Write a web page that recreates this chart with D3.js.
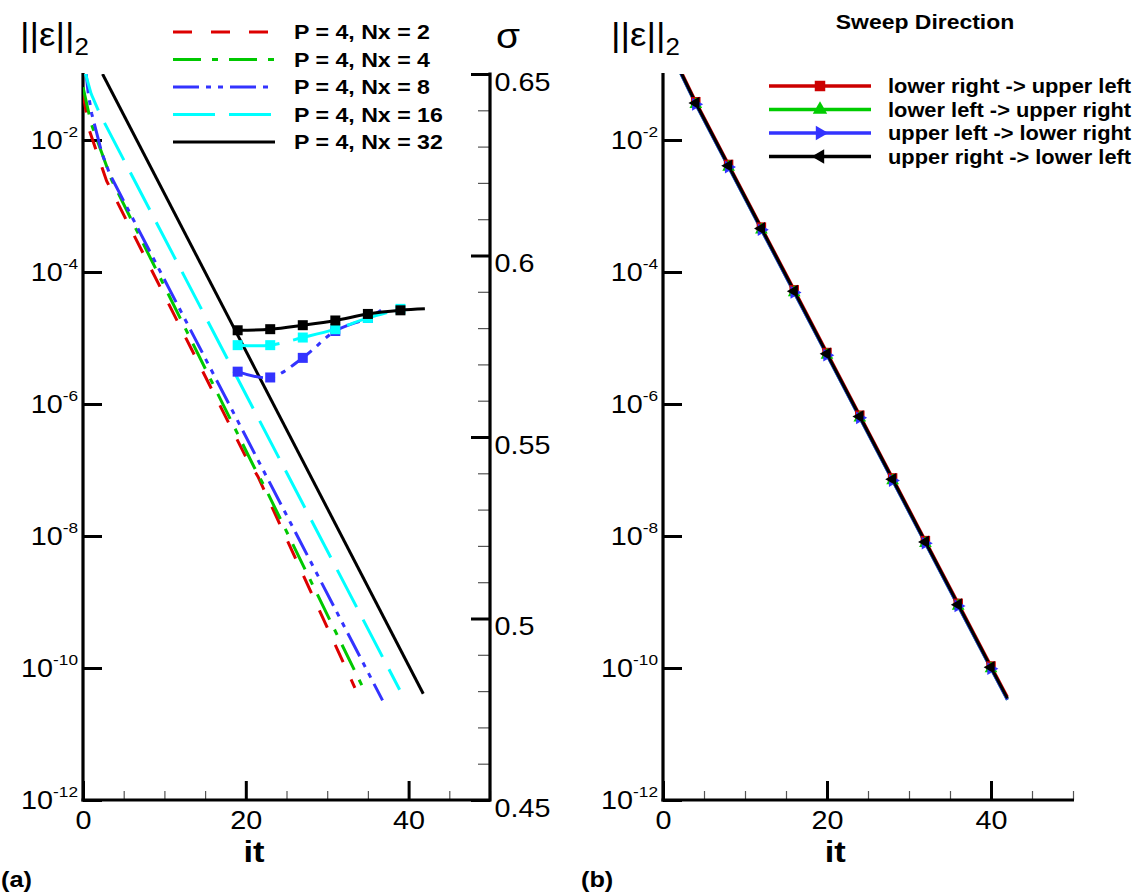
<!DOCTYPE html>
<html><head><meta charset="utf-8">
<script src="https://cdn.jsdelivr.net/npm/d3@7"></script>
<style>
body{margin:0;background:#fff;}
text{font-family:"Liberation Sans",Arial,sans-serif;}
</style></head>
<body><svg id="c" width="1138" height="892"></svg>
<script>
// ---------- DATA ----------
// Panel (a): residual ||e||_2 (log10 exponents) vs iteration
const legendA = ["P = 4, Nx = 2","P = 4, Nx = 4","P = 4, Nx = 8","P = 4, Nx = 16","P = 4, Nx = 32"];
const colorsA = ["#dd0000","#00c800","#3333ff","#00ffff","#000000"];
const dashA = ["19,19","28,11,6,11","26,7,5,7,5,7","42,14",null];
const resItNx2  = [0, 0.8, 2.9, 20, 21.5, 33.4];
const resLogNx2 = [-1.3, -1.86, -2.62, -6.8, -7.1, -10.3];
const resItNx4  = [0, 1, 3.5, 21, 22.5, 34.8];
const resLogNx4 = [-1.2, -1.75, -2.6, -6.95, -7.3, -10.4];
const resItNx8  = [0.3, 0.65, 1.07, 2.3, 3.3, 36.8];
const resLogNx8 = [-0.9, -1.3, -1.6, -2.19, -2.52, -10.49];
const resItNx16  = [0.2, 1, 2.09, 38.9];
const resLogNx16 = [-0.95, -1.3, -1.61, -10.33];
const resItNx32  = [2.4, 41.8];
const resLogNx32 = [-1.0, -10.39];
// Panel (a): sigma (right axis) for Nx = 8, 16, 32
const sigItNx8   = [19, 23, 27, 31, 35, 37];
const sigNx8     = [0.5680, 0.5664, 0.5718, 0.5792, 0.5828, 0.5855];
const sigItNx16  = [19, 23, 27, 31, 35, 39];
const sigNx16    = [0.5753, 0.5753, 0.5774, 0.5797, 0.5828, 0.5853];
const sigItNx32  = [19, 23, 27, 31, 35, 39, 42];
const sigNx32    = [0.5794, 0.5797, 0.5808, 0.5821, 0.5839, 0.5849, 0.5853];

// Panel (b): sweep directions
const legendB = ["lower right -> upper left","lower left -> upper right","upper left -> lower right","upper right -> lower left"];
const colorsB = ["#cc0000","#00cc00","#3333ff","#000000"];
const sweepIt    = [1.5, 4, 8, 12, 16, 20, 24, 28, 32, 36, 40, 42];
const sweepLR_UL = [-0.78, -1.42, -2.37, -3.32, -4.27, -5.22, -6.17, -7.12, -8.07, -9.02, -9.97, -10.44];
const sweepLL_UR = [-0.82, -1.46, -2.41, -3.36, -4.31, -5.26, -6.21, -7.16, -8.11, -9.06, -10.01, -10.48];
const sweepUL_LR = [-0.82, -1.46, -2.41, -3.36, -4.31, -5.26, -6.21, -7.16, -8.11, -9.06, -10.01, -10.48];
const sweepUR_LL = [-0.80, -1.44, -2.39, -3.34, -4.29, -5.24, -6.19, -7.14, -8.09, -9.04, -9.99, -10.46];
const markIt = [4, 8, 12, 16, 20, 24, 28, 32, 36, 40];

const xMajor = [0, 20, 40];
const xMinor = [5, 10, 15, 25, 30, 35, 45, 50];
const yMajorExp = [-2, -4, -6, -8, -10, -12];
const sigMajor = [0.65, 0.6, 0.55, 0.5, 0.45];
const sigMinorStep = 0.01;

// ---------- DRAW ----------
const svg = d3.select("#c");
const TOP = 74, BOT = 800;
const TICKFS = 25, SX = 1.15;

function stext(parent, x, y, size, txt, opts = {}) {
  const t = parent.append("text")
    .attr("transform", `translate(${x},${y}) scale(${opts.sx || SX},1)`)
    .attr("font-size", size).attr("text-anchor", opts.anchor || "start");
  if (opts.bold) t.attr("font-weight", "bold");
  if (txt !== null) t.text(txt);
  return t;
}

function panel(x0, x1, labelTxt, titleX) {
  const x = d3.scaleLinear().domain([0, 50]).range([x0, x1]);
  const y = d3.scaleLog().domain([1e-12, 1e-1]).range([BOT, TOP]);
  const g = svg.append("g");
  g.append("g").attr("transform", `translate(0,${BOT})`)
    .call(d3.axisBottom(x).tickValues(xMinor).tickSize(-9).tickFormat(""))
    .call(s => s.select(".domain").remove())
    .call(s => s.selectAll("line").attr("stroke", "#555").attr("stroke-width", 1.2));
  g.append("g").attr("transform", `translate(0,${BOT})`)
    .call(d3.axisBottom(x).tickValues(xMajor).tickSize(-19).tickPadding(10).tickFormat(d3.format("d")))
    .call(s => s.select(".domain").remove())
    .call(s => s.selectAll("line").attr("stroke", "#000").attr("stroke-width", 3))
    .call(s => s.selectAll("text").attr("font-size", TICKFS).attr("fill", "#000").attr("dy", "0.75em")
      .attr("transform", `scale(${SX},1)`)
      .attr("font-family", "Liberation Sans, Arial, sans-serif"));
  g.append("g").attr("transform", `translate(${x0},0)`)
    .call(d3.axisLeft(y).tickValues(yMajorExp.map(e => Math.pow(10, e))).tickSize(-19).tickFormat(""))
    .call(s => s.select(".domain").remove())
    .call(s => s.selectAll("line").attr("stroke", "#000").attr("stroke-width", 3));
  yMajorExp.forEach(e => {
    const t = stext(g, x0 - 5, y(Math.pow(10, e)) + 9, TICKFS, null, {anchor: "end"});
    t.append("tspan").text("10");
    t.append("tspan").attr("font-size", 15).attr("dy", -12).text(String(e));
  });
  g.append("line").attr("x1", x0).attr("x2", x0).attr("y1", TOP - 1).attr("y2", BOT + 1.5)
    .attr("stroke", "#000").attr("stroke-width", 3.2);
  g.append("line").attr("x1", x0 - 1.5).attr("x2", x1 + 1).attr("y1", BOT).attr("y2", BOT)
    .attr("stroke", "#000").attr("stroke-width", 3.2);
  const yt = stext(g, titleX, 46, 34, null, {sx: 1.08});
  yt.append("tspan").text("||ε||");
  yt.append("tspan").attr("font-size", 24).attr("dy", 9).text("2");
  stext(g, x(21), 862, 30, "it", {anchor: "middle", bold: true});
  stext(g, x0 - 82, 887, 22, labelTxt, {bold: true});
  return {x, y, g};
}

// ----- Panel (a)
const A = panel(83, 490, "(a)", 20);
const sig = d3.scaleLinear().domain([0.45, 0.65]).range([BOT, TOP]);
const sigMinor = d3.range(0.45, 0.6501, sigMinorStep).map(v => +v.toFixed(2))
  .filter(v => !sigMajor.some(m => Math.abs(m - v) < 1e-6));
A.g.append("g").attr("transform", "translate(490,0)")
  .call(d3.axisRight(sig).tickValues(sigMinor).tickSize(-12).tickFormat(""))
  .call(s => s.select(".domain").remove())
  .call(s => s.selectAll("line").attr("stroke", "#555").attr("stroke-width", 1.2));
A.g.append("g").attr("transform", "translate(490,0)")
  .call(d3.axisRight(sig).tickValues(sigMajor).tickSize(-19).tickPadding(4).tickFormat(d3.format(".2~f")))
  .call(s => s.select(".domain").remove())
  .call(s => s.selectAll("line").attr("stroke", "#000").attr("stroke-width", 3))
  .call(s => s.selectAll("text").attr("font-size", TICKFS).attr("fill", "#000").attr("dy", "0.64em")
      .attr("transform", `scale(${SX},1)`)
      .attr("font-family", "Liberation Sans, Arial, sans-serif"));
A.g.append("line").attr("x1", 490).attr("x2", 490).attr("y1", TOP - 1.5).attr("y2", BOT + 1.5)
  .attr("stroke", "#000").attr("stroke-width", 3.2);
stext(A.g, 496, 48, 36, "σ", {sx: 1.08});

svg.append("clipPath").attr("id", "clipA").append("rect")
  .attr("x", 83).attr("y", TOP).attr("width", 407).attr("height", BOT - TOP);
const plotA = svg.append("g").attr("clip-path", "url(#clipA)");

const resIts = [resItNx2, resItNx4, resItNx8, resItNx16, resItNx32];
const resLogs = [resLogNx2, resLogNx4, resLogNx8, resLogNx16, resLogNx32];
const lineA = d3.line().x(d => A.x(d[0])).y(d => A.y(Math.pow(10, d[1])));
resIts.forEach((its, i) => {
  const pts = its.map((t, k) => [t, resLogs[i][k]]);
  plotA.append("path").attr("d", lineA(pts)).attr("fill", "none")
    .attr("stroke", colorsA[i]).attr("stroke-width", 3)
    .attr("stroke-dasharray", dashA[i]);
});
const sigIts = [sigItNx8, sigItNx16, sigItNx32];
const sigVals = [sigNx8, sigNx16, sigNx32];
const sigIdx = [2, 3, 4];
const lineS = d3.line().x(d => A.x(d[0])).y(d => sig(d[1])).curve(d3.curveCatmullRom);
sigIts.forEach((its, j) => {
  const i = sigIdx[j];
  const pts = its.map((t, k) => [t, sigVals[j][k]]);
  plotA.append("path").attr("d", lineS(pts)).attr("fill", "none")
    .attr("stroke", colorsA[i]).attr("stroke-width", 3)
    .attr("stroke-dasharray", dashA[i]);
  pts.filter(p => (p[0] - 19) % 4 === 0).forEach(p => {
    plotA.append("rect").attr("x", A.x(p[0]) - 5).attr("y", sig(p[1]) - 5)
      .attr("width", 10).attr("height", 10).attr("fill", colorsA[i]);
  });
});
legendA.forEach((name, i) => {
  const yy = 32 + i * 27.5;
  svg.append("line").attr("x1", 173).attr("x2", 275).attr("y1", yy).attr("y2", yy)
    .attr("stroke", colorsA[i]).attr("stroke-width", 3).attr("stroke-dasharray", dashA[i]);
  stext(svg, 294, yy + 7, 20.5, name, {bold: true, sx: 1.13});
});

// ----- Panel (b)
const B = panel(663, 1073, "(b)", 611);
svg.append("clipPath").attr("id", "clipB").append("rect")
  .attr("x", 663).attr("y", TOP).attr("width", 410).attr("height", BOT - TOP);
const plotB = svg.append("g").attr("clip-path", "url(#clipB)");
const sweeps = [sweepLR_UL, sweepLL_UR, sweepUL_LR, sweepUR_LL];
const lineB = d3.line().x(d => B.x(d[0])).y(d => B.y(Math.pow(10, d[1])));
const symB = [d3.symbolSquare, d3.symbolTriangle, d3.symbolTriangle, d3.symbolTriangle];
const rotB = [0, 0, 90, -90];
sweeps.forEach((vals, i) => {
  const pts = sweepIt.map((t, k) => [t, vals[k]]);
  plotB.append("path").attr("d", lineB(pts)).attr("fill", "none")
    .attr("stroke", colorsB[i]).attr("stroke-width", 3);
});
sweeps.forEach((vals, i) => {
  sweepIt.forEach((t, k) => {
    if (!markIt.includes(t)) return;
    plotB.append("path").attr("d", d3.symbol().type(symB[i]).size(i === 0 ? 90 : 70)())
      .attr("transform", `translate(${B.x(t)},${B.y(Math.pow(10, vals[k]))}) rotate(${rotB[i]})`)
      .attr("fill", colorsB[i]);
  });
});
stext(svg, 925, 29, 20.5, "Sweep Direction", {anchor: "middle", bold: true, sx: 1.12});
legendB.forEach((name, i) => {
  const yy = 86 + i * 23.5;
  svg.append("line").attr("x1", 769).attr("x2", 871).attr("y1", yy).attr("y2", yy)
    .attr("stroke", colorsB[i]).attr("stroke-width", 3.5);
  svg.append("path").attr("d", d3.symbol().type(symB[i]).size(i === 0 ? 110 : 90)())
    .attr("transform", `translate(820,${yy}) rotate(${rotB[i]})`).attr("fill", colorsB[i]);
  stext(svg, 888, yy + 7, 19.5, name, {bold: true, sx: 1.12});
});
</script></body></html>
